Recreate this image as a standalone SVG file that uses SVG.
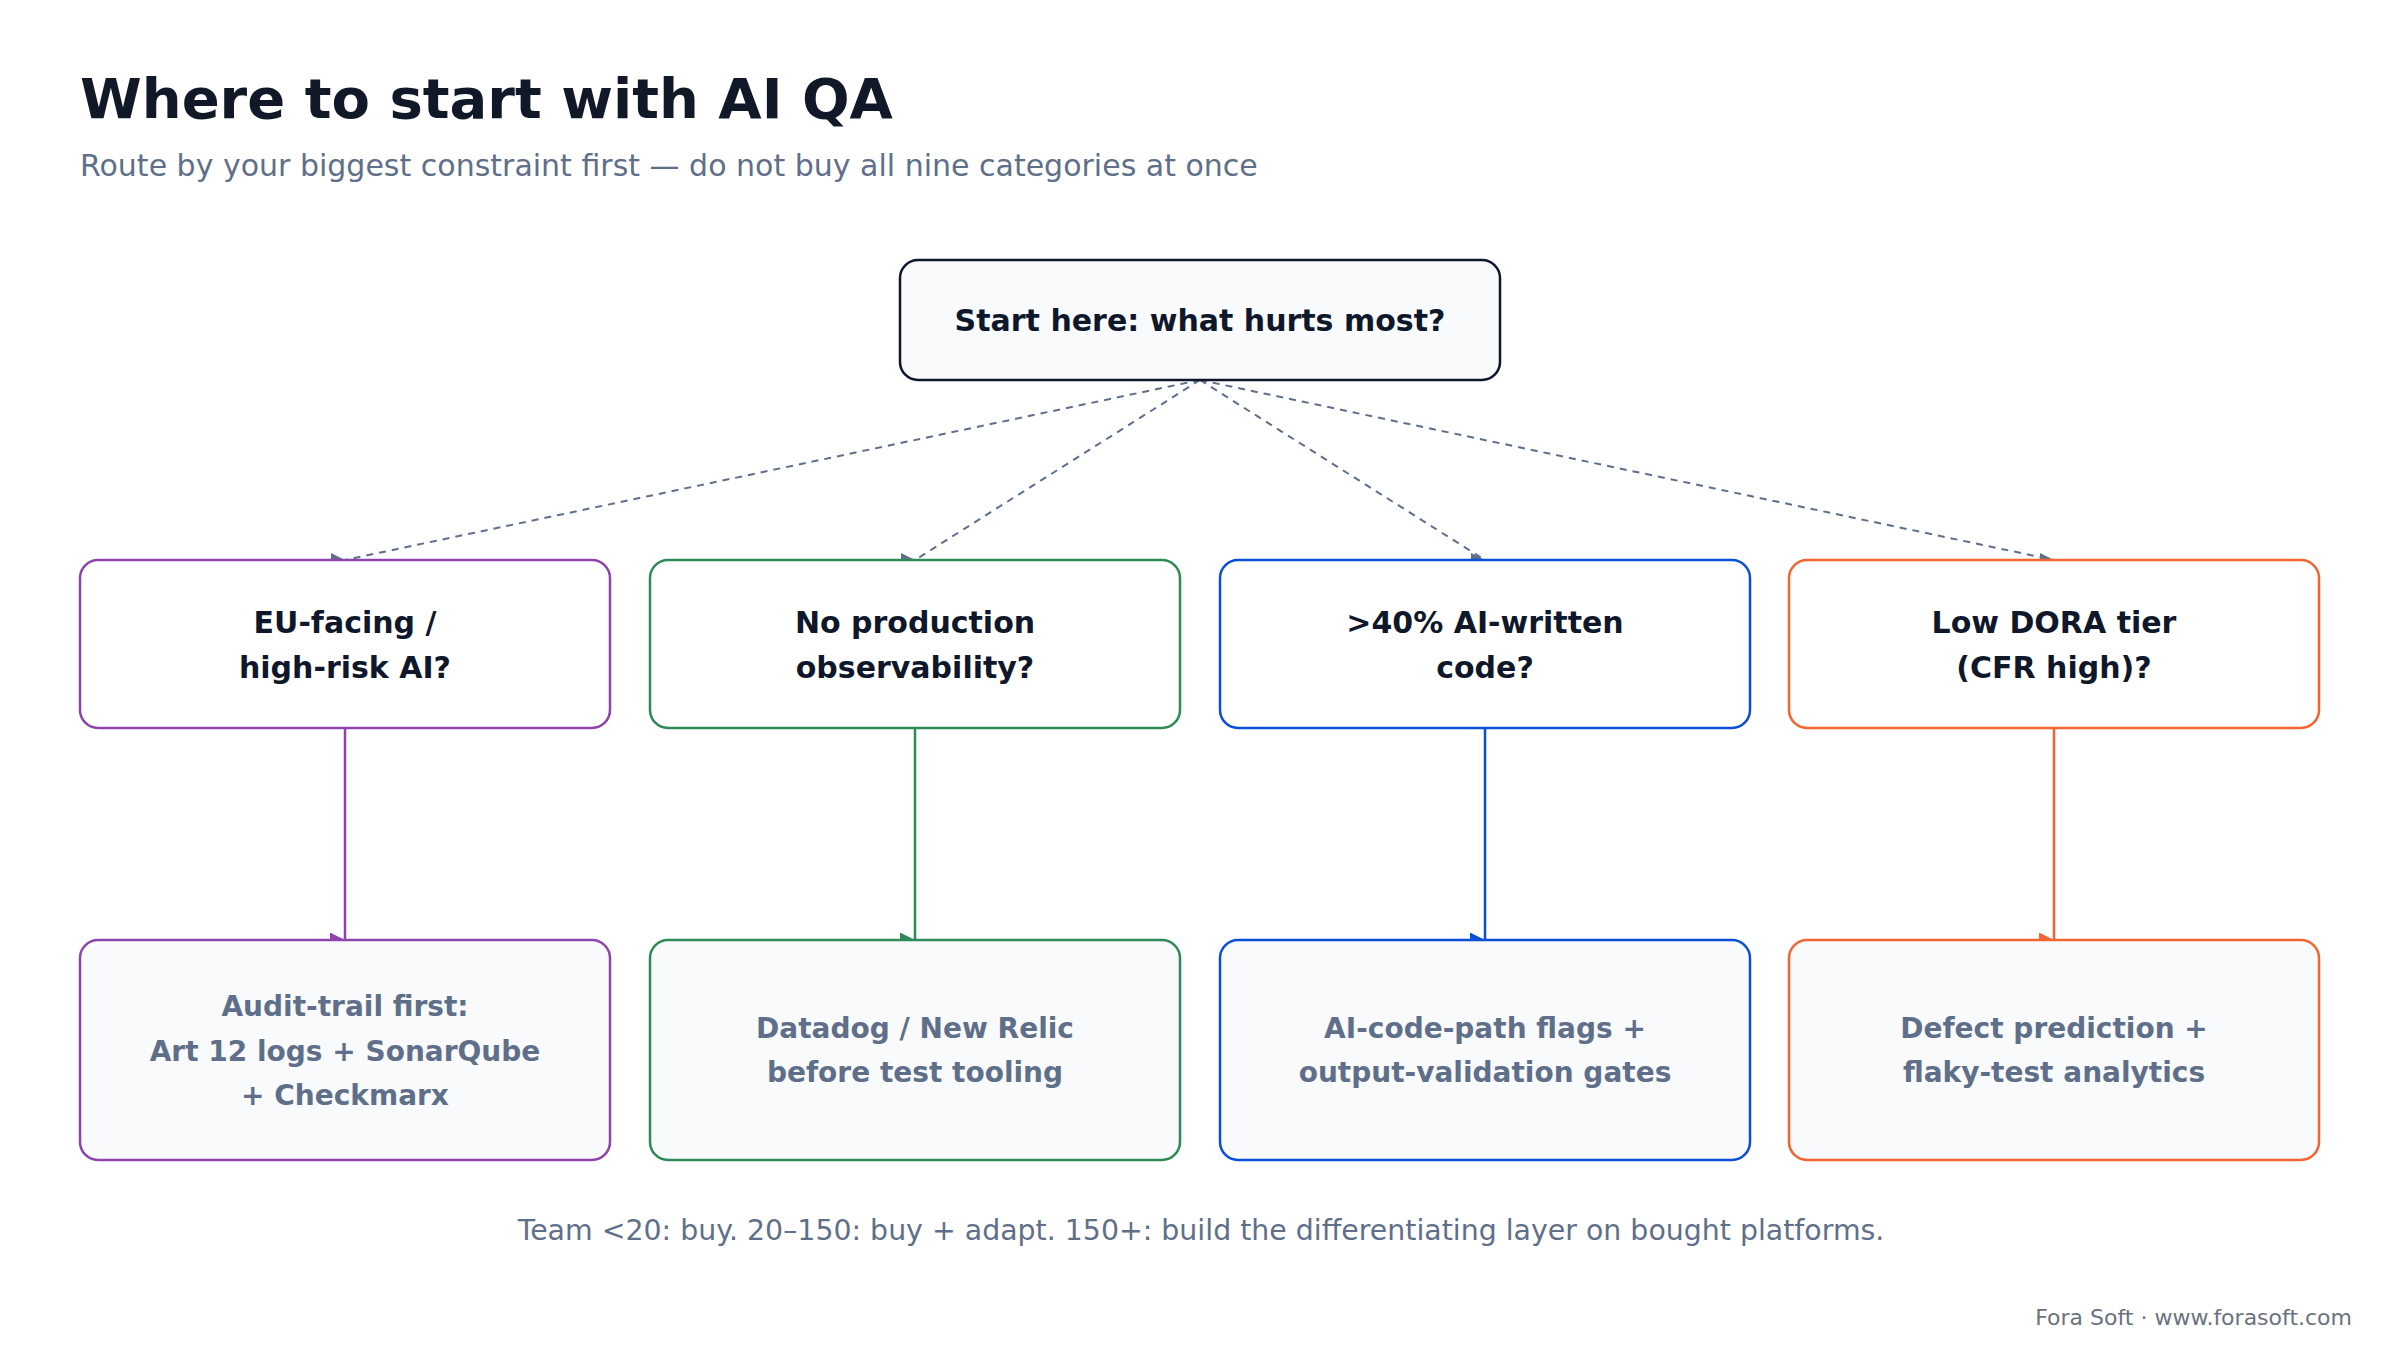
<svg xmlns="http://www.w3.org/2000/svg" width="2400" height="1360" viewBox="0 0 2400 1360">
<style>
text{font-family:"DejaVu Sans","Liberation Sans",sans-serif}
.t{font-size:56px;font-weight:bold;fill:#111827}
.s{font-size:30px;fill:#5f6f89}
.q{font-size:30px;font-weight:bold;fill:#0f172a;text-anchor:middle}
.a{font-size:28px;font-weight:bold;fill:#5f6f89;text-anchor:middle}
.f{font-size:28.4px;fill:#5f6f89;text-anchor:middle}
.c{font-size:22px;fill:#6b7280;text-anchor:end}
.d{fill:none;stroke:#5f6f89;stroke-width:2;stroke-dasharray:7 6}
.v{fill:none;stroke-width:2.5}
</style>
<defs>
<marker id="mg" viewBox="0 0 10 10" refX="10" refY="5" markerWidth="7" markerHeight="7" orient="0"><path d="M0,0L10,5L0,10z" fill="#5f6f89"/></marker>
<marker id="mp" viewBox="0 0 10 10" refX="10" refY="5" markerWidth="6" markerHeight="6" orient="0"><path d="M0,0L10,5L0,10z" fill="#8e44ad"/></marker>
<marker id="mgr" viewBox="0 0 10 10" refX="10" refY="5" markerWidth="6" markerHeight="6" orient="0"><path d="M0,0L10,5L0,10z" fill="#2e8b57"/></marker>
<marker id="mb" viewBox="0 0 10 10" refX="10" refY="5" markerWidth="6" markerHeight="6" orient="0"><path d="M0,0L10,5L0,10z" fill="#0b4fd6"/></marker>
<marker id="mo" viewBox="0 0 10 10" refX="10" refY="5" markerWidth="6" markerHeight="6" orient="0"><path d="M0,0L10,5L0,10z" fill="#f26430"/></marker>
</defs>
<rect width="2400" height="1360" fill="#fff"/>
<text class="t" x="80" y="118">Where to start with AI QA</text>
<text class="s" x="80" y="176">Route by your biggest constraint first — do not buy all nine categories at once</text>
<g id="connectors">
<path class="d" d="M1200,380L345,560" marker-end="url(#mg)"/>
<path class="d" d="M1200,380L915,560" marker-end="url(#mg)"/>
<path class="d" d="M1200,380L1485,560" marker-end="url(#mg)"/>
<path class="d" d="M1200,380L2054,560" marker-end="url(#mg)"/>
<path class="v" stroke="#8e44ad" d="M345,728V940" marker-end="url(#mp)"/>
<path class="v" stroke="#2e8b57" d="M915,728V940" marker-end="url(#mgr)"/>
<path class="v" stroke="#0b4fd6" d="M1485,728V940" marker-end="url(#mb)"/>
<path class="v" stroke="#f26430" d="M2054,728V940" marker-end="url(#mo)"/>
</g>
<g id="start"><rect x="900" y="260" width="600" height="120" rx="18" fill="#f8fafc" stroke="#0f172a" stroke-width="2.5"/><text class="q" x="1200" y="331" font-size="34">Start here: what hurts most?</text></g>
<g id="q1"><rect x="80" y="560" width="530" height="168" rx="18" fill="#fff" stroke="#8e44ad" stroke-width="2.5"/><text class="q" x="345" y="633">EU-facing /</text><text class="q" x="345" y="678">high-risk AI?</text></g>
<g id="q2"><rect x="650" y="560" width="530" height="168" rx="18" fill="#fff" stroke="#2e8b57" stroke-width="2.5"/><text class="q" x="915" y="633">No production</text><text class="q" x="915" y="678">observability?</text></g>
<g id="q3"><rect x="1220" y="560" width="530" height="168" rx="18" fill="#fff" stroke="#0b4fd6" stroke-width="2.5"/><text class="q" x="1485" y="633">&gt;40% AI-written</text><text class="q" x="1485" y="678">code?</text></g>
<g id="q4"><rect x="1789" y="560" width="530" height="168" rx="18" fill="#fff" stroke="#f26430" stroke-width="2.5"/><text class="q" x="2054" y="633">Low DORA tier</text><text class="q" x="2054" y="678">(CFR high)?</text></g>
<g id="a1"><rect x="80" y="940" width="530" height="220" rx="18" fill="#f8fafc" stroke="#8e44ad" stroke-width="2.5"/><text class="a" x="345" y="1016">Audit-trail first:</text><text class="a" x="345" y="1061">Art 12 logs + SonarQube</text><text class="a" x="345" y="1105">+ Checkmarx</text></g>
<g id="a2"><rect x="650" y="940" width="530" height="220" rx="18" fill="#f8fafc" stroke="#2e8b57" stroke-width="2.5"/><text class="a" x="915" y="1038">Datadog / New Relic</text><text class="a" x="915" y="1082">before test tooling</text></g>
<g id="a3"><rect x="1220" y="940" width="530" height="220" rx="18" fill="#f8fafc" stroke="#0b4fd6" stroke-width="2.5"/><text class="a" x="1485" y="1038">AI-code-path flags +</text><text class="a" x="1485" y="1082">output-validation gates</text></g>
<g id="a4"><rect x="1789" y="940" width="530" height="220" rx="18" fill="#f8fafc" stroke="#f26430" stroke-width="2.5"/><text class="a" x="2054" y="1038">Defect prediction +</text><text class="a" x="2054" y="1082">flaky-test analytics</text></g>
<text class="f" x="1201" y="1240">Team &lt;20: buy. 20–150: buy + adapt. 150+: build the differentiating layer on bought platforms.</text>
<text class="c" x="2352" y="1325">Fora Soft · www.forasoft.com</text>
</svg>
